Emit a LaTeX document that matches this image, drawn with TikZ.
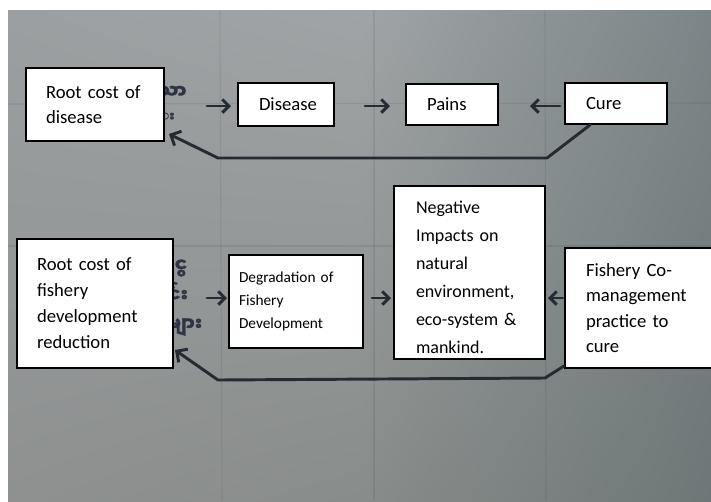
\documentclass[tikz,border=0pt]{standalone}
\usepackage{fontspec}
\setmainfont{Carlito}
\newfontfamily\mmfont[Script=Myanmar,FakeBold=1.8]{Noto Sans Myanmar UI}
\usetikzlibrary{arrows.meta,calc,shadings}

\definecolor{ink}{HTML}{262A33}
\definecolor{pen}{HTML}{2E3443}
\definecolor{bdTL}{HTML}{9C9FA1}
\definecolor{bdTM}{HTML}{A0A4A6}
\definecolor{bdTR}{HTML}{7B8587}
\definecolor{bdBL}{HTML}{8E9190}
\definecolor{bdBM}{HTML}{888C8A}
\definecolor{bdBR}{HTML}{6E7777}

\begin{document}
\begin{tikzpicture}[x=0.75pt,y=-0.75pt,
  box/.style={draw=black, line width=1.5pt, fill=white, anchor=north west,
    align=left, inner ysep=0pt, font=\fontsize{14}{18.75}\selectfont},
  arr/.style={draw=ink, line width=2.2pt, line cap=round,
    -{Straight Barb[length=5pt,width=10pt]}},
  fb/.style={draw=ink, line width=2.2pt, line join=round, line cap=round,
    -{Straight Barb[length=6pt,width=12pt]}},
  gridline/.style={draw=black, opacity=0.07, line width=0.8pt},
  mm/.style={text=pen, font=\mmfont\bfseries\fontsize{14}{14}\selectfont, inner sep=0pt}]

\useasboundingbox (0,0) rectangle (711,501);
\fill[white] (0,0) rectangle (711,501);

% whiteboard photo
\shade[upper left=bdTL, upper right=bdTM, lower left=bdBL, lower right=bdBM]
  (8,10) rectangle (360,501);
\shade[upper left=bdTM, upper right=bdTR, lower left=bdBM, lower right=bdBR]
  (360,10) rectangle (711,501);

% faint board grid
\draw[gridline] (220,10) -- (222,501);
\draw[gridline] (374,10) -- (374,501);
\draw[gridline] (545,10) -- (546,501);
\draw[gridline] (8,104) -- (711,103);
\draw[gridline] (8,246) -- (711,246);

% handwriting peeking out from behind the boxes
\node[mm] (hw1) at (172,92) {သာ};
\node[mm, font=\mmfont\bfseries\fontsize{10}{10}\selectfont] (hw2) at (168,117) {း};
\node[mm] (hw3) at (181,268) {ငွ};
\node[mm] (hw4) at (178,292) {င်း};
\node[mm] (hw5) at (185,327) {များ};

% upper chain
\node[box, minimum width=103.5pt, minimum height=54.75pt, inner xsep=15pt,
  text width=73.5pt] (rootD) at (25,67) {Root cost of\\disease};
\node[box, minimum width=72pt, minimum height=32.25pt, inner xsep=15.75pt,
  text width=40.5pt] (disease) at (237,82) {Disease};
\node[box, minimum width=69pt, minimum height=30.75pt, inner xsep=15.75pt,
  text width=37.5pt] (pains) at (405,83) {Pains};
\node[box, minimum width=76.5pt, minimum height=30.75pt, inner xsep=15.75pt,
  text width=45pt] (cure) at (564,82) {Cure};

% lower chain
\node[box, minimum width=117pt, minimum height=96.75pt, inner xsep=15pt,
  text width=87pt, font=\fontsize{14}{19.5}\selectfont] (rootF) at (16,238)
  {Root cost of\\fishery\\development\\reduction};
\node[box, minimum width=100.5pt, minimum height=69.75pt, inner xsep=7.5pt,
  text width=85.5pt, font=\fontsize{11.5}{17.25}\selectfont] (degr) at (228,254)
  {Degradation of\\Fishery\\Development};
\node[box, minimum width=113.25pt, minimum height=129.75pt, inner xsep=16.5pt,
  text width=80.25pt, font=\fontsize{13.5}{21}\selectfont] (neg) at (393,185)
  {\rule{0pt}{17pt}Negative\\Impacts on\\natural\\environment,\\eco-system \&\\mankind.};
\node[box, minimum width=114pt, minimum height=90pt, inner xsep=15.75pt,
  text width=82.5pt, font=\fontsize{14}{19}\selectfont] (fish) at (564,247)
  {Fishery Co-\\management\\practice to\\cure};

% upper arrows
\draw[arr] ($(rootD.east)+(42,1.5)$) -- ($(disease.west)+(-6,1.5)$);
\draw[arr] ($(disease.east)+(30,1.5)$) -- ($(pains.west)+(-15,1.5)$);
\draw[arr] ($(cure.west)+(-4,2.5)$) -- ($(pains.east)+(31,1.5)$);

% upper return line
\coordinate (t1) at (547,158);
\coordinate (t2) at (218,158);
\draw[fb] ($(cure.south west)+(26,0)$) -- (t1) -- (t2)
  -- ($(rootD.south east)+(4,-8)$);

% lower arrows
\draw[arr] ($(rootF.east)+(33,-5.5)$) -- ($(degr.west)+(-1,-3.5)$);
\draw[arr] ($(degr.east)+(8,-3.5)$) -- ($(neg.west)+(-2,25.5)$);
\draw[arr] ($(fish.west)+(-1,-10)$) -- ($(neg.east)+(2,25.5)$);

% lower return line
\coordinate (b1) at (545,378);
\coordinate (b2) at (218,380);
\draw[fb] ($(fish.south west)+(0,-3)$) -- (b1) -- (b2)
  -- ($(rootF.south east)+(1,-19)$);

\end{tikzpicture}
\end{document}
